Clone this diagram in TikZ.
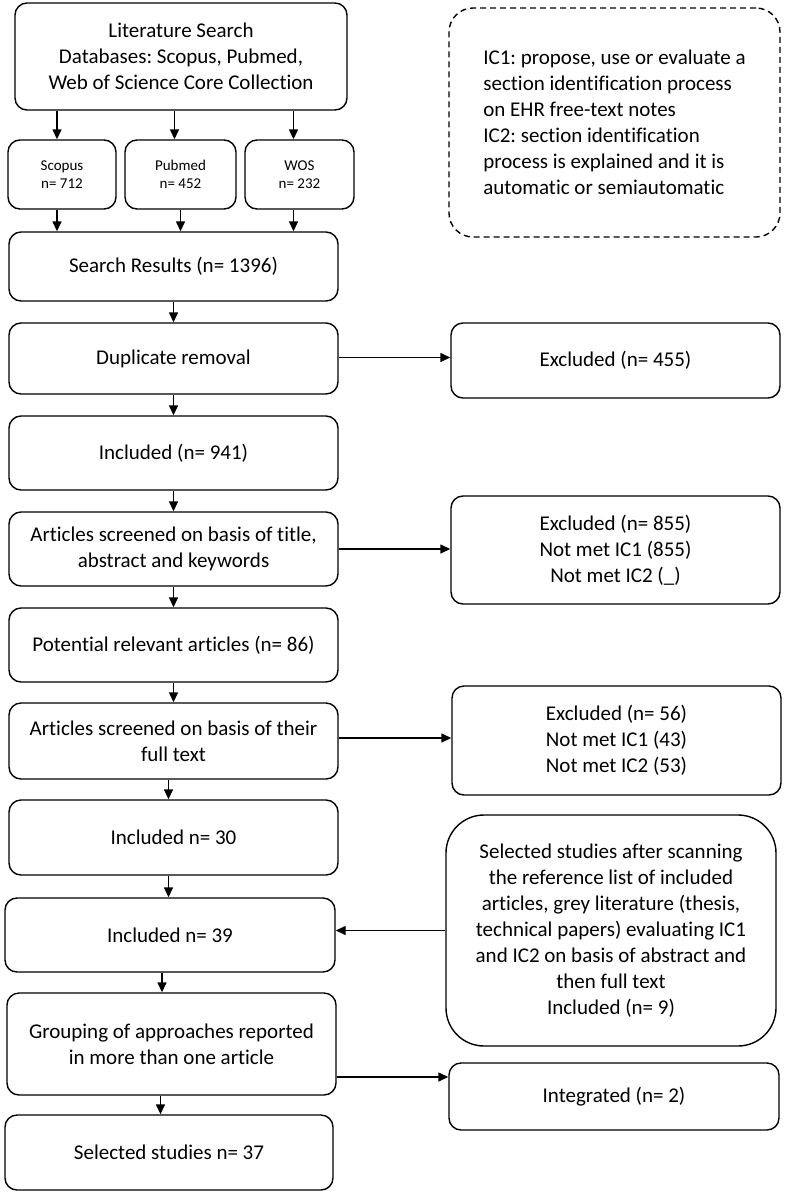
\documentclass[tikz,border=0pt]{standalone}
\usepackage{fontspec}
\setmainfont{Carlito}[Ligatures=NoCommon]
\frenchspacing
\usetikzlibrary{arrows.meta}
\usetikzlibrary{calc}

\begin{document}
\begin{tikzpicture}[x=1pt, y=-1pt,
    box/.style={draw, line width=1.4pt, rounded corners=12pt, align=center, inner sep=2pt, font=\fontsize{21}{26}\selectfont},
    smallbox/.style={box, font=\fontsize{15}{18}\selectfont},
    arr/.style={line width=1.4pt, -{Triangle[length=10pt, width=9pt]}}]
  \useasboundingbox (0,0) rectangle (786,1192);

  % left column
  \node[box, minimum width=332pt, minimum height=107pt] (lit) at (181,56.5) {Literature Search\\Databases: Scopus, Pubmed,\\Web of Science Core Collection};
  \node[smallbox, minimum width=108pt, minimum height=69pt] (scopus) at (62,174.5) {Scopus\\n= 712};
  \node[smallbox, minimum width=111pt, minimum height=69pt] (pubmed) at (180.5,174.5) {Pubmed\\n= 452};
  \node[smallbox, minimum width=109pt, minimum height=69pt] (wos) at (299.5,174.5) {WOS\\n= 232};
  \node[box, minimum width=329pt, minimum height=69pt] (results) at (173.5,266.5) {Search Results (n= 1396)};
  \node[box, minimum width=329pt, minimum height=71pt] (dup) at (173.5,358.5) {Duplicate removal};
  \node[box, minimum width=329pt, minimum height=74pt] (incl1) at (173.5,453) {Included (n= 941)};
  \node[box, minimum width=329pt, minimum height=74pt] (screen1) at (173.5,549) {Articles screened on basis of title,\\abstract and keywords};
  \node[box, minimum width=329pt, minimum height=74pt] (potential) at (173.5,645) {Potential relevant articles (n= 86)};
  \node[box, minimum width=329pt, minimum height=76pt] (screen2) at (173.5,741) {Articles screened on basis of their\\full text};
  \node[box, minimum width=329pt, minimum height=75pt] (incl2) at (173.5,837.5) {Included n= 30};
  \node[box, minimum width=330pt, minimum height=74pt] (incl3) at (170,935) {Included n= 39};
  \node[box, minimum width=329pt, minimum height=102pt] (group) at (171.5,1044) {Grouping of approaches reported\\in more than one article};
  \node[box, minimum width=328pt, minimum height=75pt] (final) at (169,1152.5) {Selected studies n= 37};

  % right column
  \node[box, dash pattern=on 6pt off 4pt, rounded corners=24pt, align=left, minimum width=331pt, minimum height=229pt] (criteria) at (614.5,122.5) {IC1: propose, use or evaluate a\\section identification process\\on EHR free-text notes\\IC2: section identification\\process is explained and it is\\automatic or semiautomatic};
  \node[box, minimum width=329pt, minimum height=75pt] (excl1) at (615.5,360.5) {Excluded (n= 455)};
  \node[box, minimum width=329pt, minimum height=108pt] (excl2) at (615.5,550) {Excluded (n= 855)\\Not met IC1 (855)\\Not met IC2 (\_)};
  \node[box, minimum width=329pt, minimum height=109pt] (excl3) at (616.5,740.5) {Excluded (n= 56)\\Not met IC1 (43)\\Not met IC2 (53)};
  \node[box, rounded corners=38pt, minimum width=330pt, minimum height=231pt] (extra) at (611,930.5) {Selected studies after scanning\\the reference list of included\\articles, grey literature (thesis,\\technical papers) evaluating IC1\\and IC2 on basis of abstract and\\then full text\\Included (n= 9)};
  \node[box, minimum width=330pt, minimum height=67pt] (integ) at (614,1096.5) {Integrated (n= 2)};

  \draw[arr] ([xshift=-5pt]scopus.north |- lit.south) -- ([xshift=-5pt]scopus.north);
  \draw[arr] ([xshift=-6pt]pubmed.north |- lit.south) -- ([xshift=-6pt]pubmed.north);
  \draw[arr] ([xshift=-6pt]wos.north |- lit.south) -- ([xshift=-6pt]wos.north);
  \draw[arr] ([xshift=-5pt]scopus.south) -- ([xshift=-5pt]scopus.south |- results.north);
  \draw[arr] (pubmed.south) -- (pubmed.south |- results.north);
  \draw[arr] ([xshift=-6pt]wos.south) -- ([xshift=-6pt]wos.south |- results.north);

  \draw[arr] (results) -- (dup);
  \draw[arr] (dup) -- (incl1);
  \draw[arr] (incl1) -- (screen1);
  \draw[arr] (screen1) -- (potential);
  \draw[arr] (potential) -- (screen2);
  \draw[arr] ([xshift=-5pt]screen2.south) -- ([xshift=-5pt]incl2.north);
  \draw[arr] ([xshift=-5pt]incl2.south) -- ([xshift=-5pt]incl2.south |- incl3.north);
  \draw[arr] ([xshift=-8pt]incl3.south) -- ([xshift=-8pt]incl3.south |- group.north);
  \draw[arr] ([xshift=-11pt]group.south) -- ([xshift=-11pt]group.south |- final.north);

  \draw[arr] ([yshift=1pt]dup.east) -- ([yshift=1pt]dup.east -| excl1.west);
  \draw[arr] (screen1.east) -- (screen1.east -| excl2.west);
  \draw[arr] ([yshift=3pt]screen2.east) -- ([yshift=3pt]screen2.east -| excl3.west);
  \draw[arr] (extra.west) -- (extra.west -| incl3.east);
  \draw[arr] ([yshift=-33pt]group.east) -- ([yshift=-33pt]group.east -| integ.west);
\end{tikzpicture}
\end{document}
